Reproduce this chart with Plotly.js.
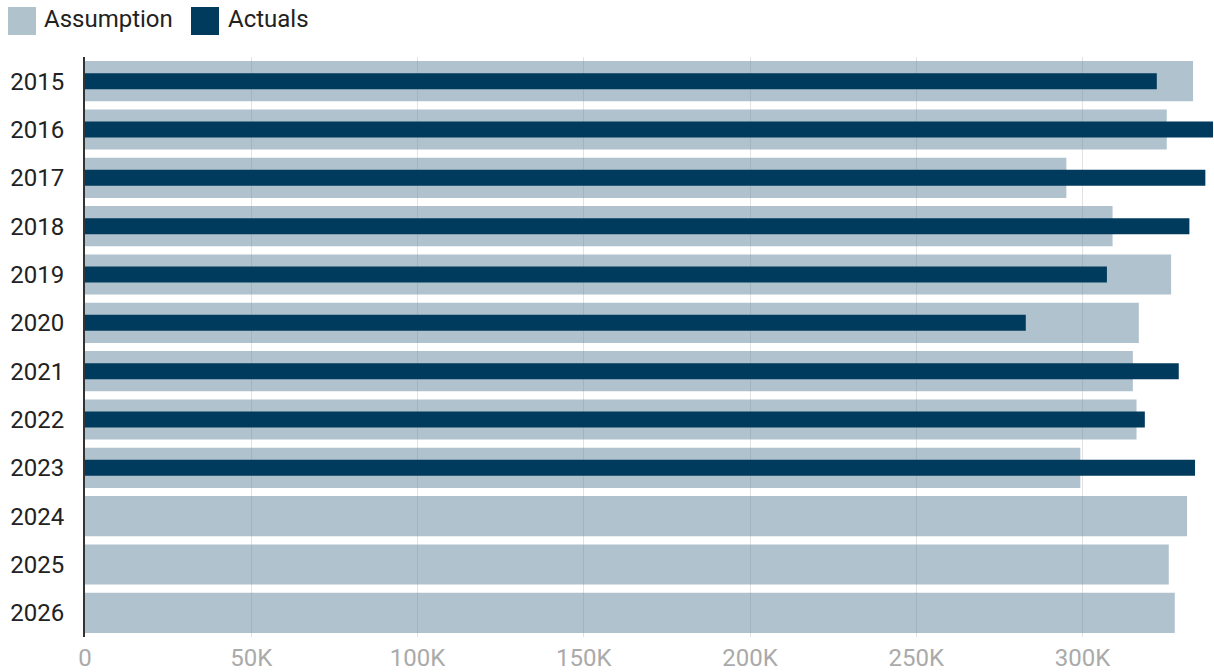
<!DOCTYPE html>
<html>
<head>
<meta charset="utf-8">
<script src="https://cdn.plot.ly/plotly-3.0.1.min.js"></script>
<style>
html,body{margin:0;padding:0;background:#fff;}
#chart{width:1214px;height:672px;}
</style>
</head>
<body>
<div id="chart"></div>
<script>
const years = ["2015","2016","2017","2018","2019","2020","2021","2022","2023","2024","2025","2026"];
const assumption = [333200, 325300, 295100, 309000, 326600, 316900, 315100, 316200, 299300, 331400, 325900, 327700];
const actualYears = ["2015","2016","2017","2018","2019","2020","2021","2022","2023"];
const actuals = [322300, 339200, 336900, 332100, 307300, 282900, 328900, 318700, 333800];
const xTickVals = [0, 50000, 100000, 150000, 200000, 250000, 300000];
const xTickText = ["0", "50K", "100K", "150K", "200K", "250K", "300K"];
const seriesNames = ["Assumption", "Actuals"];
const seriesColors = ["rgba(97,133,155,0.5)", "#003a5c"];
const legendColors = ["#b0c3cd", "#003a5c"];

const traces = [
  {type:"bar", orientation:"h", name:seriesNames[0], y:years, x:assumption,
   marker:{color:seriesColors[0]}, width:0.83, showlegend:false, hoverinfo:"x+y"},
  {type:"bar", orientation:"h", name:seriesNames[1], y:actualYears, x:actuals,
   marker:{color:seriesColors[1]}, width:0.33, showlegend:false, hoverinfo:"x+y"}
];

// custom legend (large square swatches)
const W = 1214, H = 672;
const mL = 85, mR = 0, mT = 57, mB = 35;
const pw = W - mL - mR, ph = H - mT - mB;
function px2x(p){ return (p - mL) / pw; }
function py2y(p){ return 1 - (p - mT) / ph; }
const legendItems = [{sx:8, tx:42}, {sx:191, tx:226}];
const shapes = [], annotations = [];
legendItems.forEach((it, i) => {
  shapes.push({type:"rect", xref:"paper", yref:"paper",
    x0:px2x(it.sx), x1:px2x(it.sx+28), y0:py2y(35), y1:py2y(7),
    fillcolor:legendColors[i], line:{width:0}});
  annotations.push({xref:"paper", yref:"paper", x:px2x(it.tx), y:py2y(19),
    xanchor:"left", yanchor:"middle", text:seriesNames[i], showarrow:false,
    font:{family:"Roboto", size:24, color:"#222"}});
});

const layout = {
  width:W, height:H,
  margin:{l:mL, r:mR, t:mT, b:mB, pad:0},
  paper_bgcolor:"#fff", plot_bgcolor:"#fff",
  barmode:"overlay",
  font:{family:"Roboto", size:24, color:"#222"},
  xaxis:{range:[0, 339500], tickvals:xTickVals, ticktext:xTickText,
    showgrid:true, gridcolor:"#e2e2e2", gridwidth:1, zeroline:false,
    showline:false, ticks:"", ticklabelstandoff:4,
    tickfont:{family:"Roboto", size:24, color:"#aaaaaa"},
    fixedrange:true},
  yaxis:{type:"category", categoryorder:"array", categoryarray:years,
    autorange:"reversed", showgrid:false, zeroline:false,
    showline:true, linecolor:"#333", linewidth:2, ticks:"",
    ticklabelstandoff:14,
    tickfont:{family:"Roboto", size:24, color:"#222"}, fixedrange:true},
  shapes:shapes, annotations:annotations, showlegend:false
};

Plotly.newPlot("chart", traces, layout, {displayModeBar:false, staticPlot:true});
</script>
</body>
</html>
